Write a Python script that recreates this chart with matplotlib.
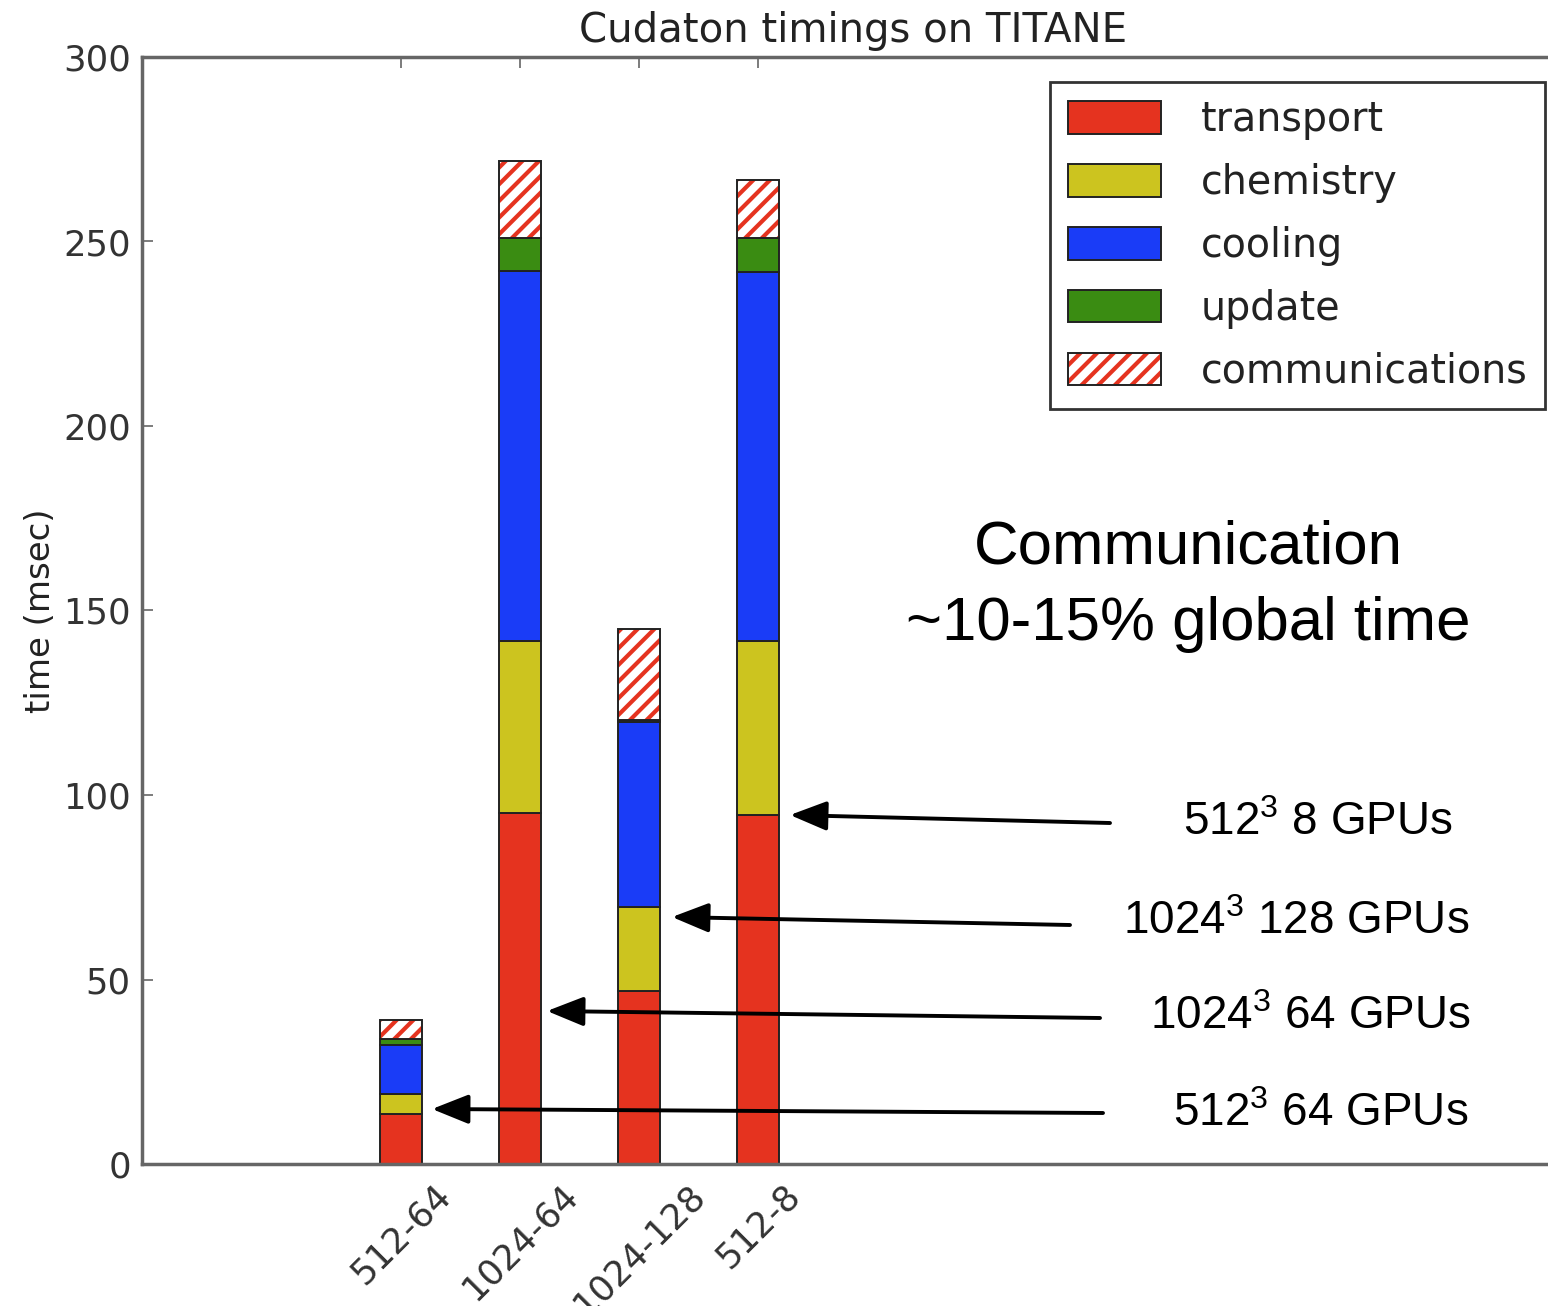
import matplotlib
matplotlib.use("Agg")
import matplotlib.pyplot as plt
import numpy as np

# ── Data (msec) ───────────────────────────────────────────────────────────────
configs       = ["512-64", "1024-64", "1024-128", "512-8"]
transport     = [13.5, 95.1, 46.9, 94.6]
chemistry     = [5.4, 46.6, 22.8, 47.1]
cooling       = [13.3, 100.3, 50.2, 100.0]
update        = [1.6, 8.9, 0.3, 9.3]
communication = [5.2, 20.9, 24.8, 15.7]

notes = ["512$^3$ 8 GPUs", "1024$^3$ 128 GPUs", "1024$^3$ 64 GPUs", "512$^3$ 64 GPUs"]

# ── Palette ───────────────────────────────────────────────────────────────────
C_TRANS = "#E5331F"
C_CHEM  = "#CCC41F"
C_COOL  = "#1A3CF7"
C_UPD   = "#3A8C12"
C_COMM  = "#E5331F"
EDGE    = "#222222"
SPINE   = "#666666"

plt.rcParams["font.family"] = "DejaVu Sans"
plt.rcParams["hatch.color"] = C_COMM
plt.rcParams["hatch.linewidth"] = 3.0
plt.rcParams["mathtext.fontset"] = "custom"
plt.rcParams["mathtext.rm"] = "Liberation Sans"
plt.rcParams["mathtext.it"] = "Liberation Sans"
plt.rcParams["mathtext.bf"] = "Liberation Sans"

W, H = 1548, 1306
fig = plt.figure(figsize=(W / 100, H / 100), dpi=100)
fig.patch.set_facecolor("white")

def px(x, y):
    return (x / W, 1 - y / H)

# axes run past the right edge of the image, like in the original screenshot
ax = fig.add_axes([142 / W, 1 - 1164 / H, (1565 - 142) / W, (1164 - 57) / H])

x = np.arange(len(configs))
bw = 0.355
bottom = np.zeros(len(configs))
segs = [("transport", transport, C_TRANS), ("chemistry", chemistry, C_CHEM),
        ("cooling", cooling, C_COOL), ("update", update, C_UPD)]
handles = []
for name, vals, col in segs:
    b = ax.bar(x, vals, bw, bottom=bottom, color=col, edgecolor=EDGE, linewidth=1.4,
               label=name, zorder=2)
    handles.append(b.patches[0])
    bottom += np.array(vals)

# communications: red hatch on white, outline drawn separately
hb = ax.bar(x, communication, bw, bottom=bottom, color="white", hatch="//",
            linewidth=0, zorder=2)
ob = ax.bar(x, communication, bw, bottom=bottom, fill=False, edgecolor=EDGE,
            linewidth=1.4, zorder=3)
handles.append((hb.patches[0], ob.patches[0]))

ax.set_xlim(-2.18, 3 + (1565 - 758) / 119)
ax.set_ylim(0, 300)
ax.set_yticks(range(0, 301, 50))
ax.set_xticks(x)
ax.set_xticklabels(configs, rotation=45, fontsize=25.5, color="#333333")
ax.tick_params(axis="y", labelsize=25.5, labelcolor="#333333")
ax.tick_params(direction="in", length=8, width=1.2, color=SPINE, top=True, right=False, pad=8)
ax.tick_params(axis="x", pad=10)
for s in ax.spines.values():
    s.set_color(SPINE)
    s.set_linewidth(2.5)

ax.set_title("Cudaton timings on TITANE", fontsize=29, color="#222222", pad=11)
ax.set_ylabel("time (msec)", fontsize=24.5, color="#222222", labelpad=4)

leg = ax.legend(handles, ["transport", "chemistry", "cooling", "update", "communications"],
                loc="upper right", bbox_to_anchor=px(1545, 82),
                bbox_transform=fig.transFigure, fontsize=28.5, frameon=True,
                fancybox=False, framealpha=1, edgecolor="#333333",
                handlelength=2.35, handleheight=0.9, labelspacing=0.58,
                handletextpad=1.0, borderpad=0.45, borderaxespad=0)
leg.get_frame().set_linewidth(2.0)
for t in leg.get_texts():
    t.set_color("#222222")

# ── Annotations ───────────────────────────────────────────────────────────────
fig.text(*px(1188, 586), "Communication\n~10-15% global time", ha="center", va="center",
         fontsize=44.5, family="Liberation Sans", color="black", linespacing=1.45)

arrows = [((1110, 823), (790, 815)), ((1070, 925), (672, 917)),
          ((1100, 1018), (547, 1011)), ((1103, 1113), (432, 1109))]
text_pos = [(1318, 823), (1296, 922), (1310, 1017), (1321, 1114)]
for (tail, tip), tp, label in zip(arrows, text_pos, notes):
    ax.annotate("", xy=px(*tip), xycoords="figure fraction",
                xytext=px(*tail), textcoords="figure fraction",
                arrowprops=dict(arrowstyle="-|>,head_length=0.75,head_width=0.3",
                                color="black", lw=2.8, mutation_scale=30,
                                shrinkA=0, shrinkB=0),
                annotation_clip=False)
    fig.text(*px(*tp), label, ha="center", va="center", fontsize=33,
             family="Liberation Sans", color="black")

fig.savefig("out.png", dpi=100, facecolor="white")
